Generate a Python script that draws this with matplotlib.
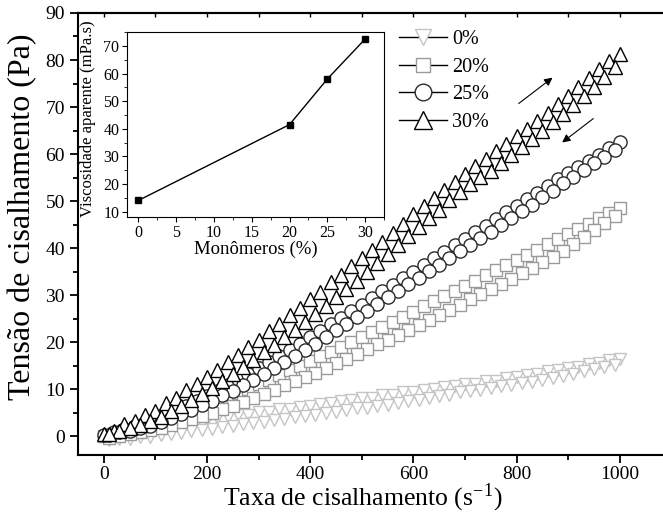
import matplotlib
matplotlib.use("Agg")
import matplotlib.pyplot as plt
import matplotlib.ticker as tckr
from matplotlib.lines import Line2D

plt.rcParams['font.family'] = ['Liberation Serif', 'DejaVu Serif']
plt.rcParams['mathtext.fontset'] = 'stix'

# shear rate points (s^-1): up sweep and down sweep
rate_up = [0, 20, 40, 60, 80, 100, 120, 140, 160, 180, 200, 220, 240, 260, 280,
           300, 320, 340, 360, 380, 400, 420, 440, 460, 480, 500, 520, 540, 560,
           580, 600, 620, 640, 660, 680, 700, 720, 740, 760, 780, 800, 820, 840,
           860, 880, 900, 920, 940, 960, 980, 1000]
rate_dn = [990, 970, 950, 930, 910, 890, 870, 850, 830, 810, 790, 770, 750, 730,
           710, 690, 670, 650, 630, 610, 590, 570, 550, 530, 510, 490, 470, 450,
           430, 410, 390, 370, 350, 330, 310, 290, 270, 250, 230, 210, 190, 170,
           150, 130, 110, 90, 70, 50, 30, 10]

# shear stress (Pa); up lists follow rate_up, down lists go 10 -> 990
s0_up = [0.0, 0.5, 0.7, 1.3, 1.5, 2.1, 2.2, 2.7, 2.8, 3.3, 3.4, 3.9, 4.0, 4.5, 4.6,
         5.1, 5.2, 5.7, 5.8, 6.3, 6.4, 6.9, 7.0, 7.5, 7.6, 8.1, 8.2, 8.7, 8.8, 9.3,
         9.4, 9.9, 10.0, 10.5, 10.6, 11.1, 11.2, 11.7, 11.8, 12.3, 12.5, 13.0, 13.2,
         13.8, 14.0, 14.6, 14.8, 15.4, 15.6, 16.2, 16.5]
s0_dn = [-0.9, -0.6, -0.5, -0.2, -0.1, 0.2, 0.5, 0.7, 1.0, 1.3, 1.6, 1.9, 2.2, 2.6,
         2.9, 3.1, 3.5, 3.7, 4.1, 4.4, 4.6, 5.0, 5.2, 5.6, 5.9, 6.1, 6.5, 6.7, 7.1,
         7.4, 7.8, 8.1, 8.5, 8.8, 9.3, 9.6, 9.9, 10.2, 10.6, 10.9, 11.3, 11.6, 12.0,
         12.4, 12.8, 13.3, 13.8, 14.2, 14.8, 15.2]
s20_up = [0.0, 0.5, 1.0, 1.5, 2.0, 2.5, 3.3, 4.1, 4.9, 5.7, 6.5, 7.4, 8.3, 9.2,
          10.1, 11.0, 12.0, 13.0, 14.0, 15.0, 16.0, 17.0, 18.0, 19.0, 20.0, 21.0,
          22.1, 23.2, 24.3, 25.4, 26.5, 27.6, 28.7, 29.8, 30.9, 32.0, 33.1, 34.2,
          35.3, 36.4, 37.5, 38.6, 39.7, 40.8, 41.9, 43.0, 44.1, 45.2, 46.3, 47.4, 48.5]
s20_dn = [-0.3, 0.1, 0.5, 0.9, 1.3, 1.8, 2.4, 3.0, 3.6, 4.2, 4.9, 5.7, 6.5, 7.3,
          8.1, 9.0, 9.9, 10.8, 11.7, 12.6, 13.5, 14.5, 15.5, 16.5, 17.5, 18.5, 19.5,
          20.5, 21.5, 22.5, 23.6, 24.7, 25.8, 26.9, 28.0, 29.1, 30.2, 31.3, 32.4,
          33.5, 34.6, 35.8, 37.0, 38.2, 39.4, 40.8, 42.3, 43.8, 45.3, 46.8]
s25_up = [0.3, 0.9, 1.6, 2.2, 2.9, 3.5, 4.5, 5.5, 6.5, 7.5, 8.5, 9.7, 10.9, 12.1,
          13.3, 14.5, 15.8, 17.1, 18.4, 19.7, 21.0, 22.4, 23.8, 25.2, 26.6, 28.0,
          29.4, 30.8, 32.2, 33.6, 35.0, 36.4, 37.8, 39.2, 40.6, 42.0, 43.4, 44.8,
          46.2, 47.6, 49.0, 50.4, 51.8, 53.2, 54.6, 56.0, 57.3, 58.6, 59.9, 61.2, 62.5]
s25_dn = [0.3, 0.8, 1.2, 1.8, 2.2, 3.0, 3.8, 4.8, 5.6, 6.6, 7.5, 8.7, 9.7, 10.9,
          11.9, 13.2, 14.4, 15.8, 17.0, 18.4, 19.7, 21.1, 22.5, 23.9, 25.3, 26.7,
          28.1, 29.5, 30.9, 32.3, 33.7, 35.1, 36.5, 37.9, 39.3, 40.7, 42.1, 43.5,
          44.9, 46.3, 47.8, 49.2, 50.8, 52.2, 53.8, 55.2, 56.6, 58.0, 59.4, 60.8]
s30_up = [0.5, 1.2, 2.5, 3.3, 4.6, 5.4, 7.0, 8.2, 9.8, 11.0, 12.6, 14.0, 15.8,
          17.2, 19.0, 20.4, 22.3, 23.8, 25.7, 27.2, 29.1, 30.7, 32.7, 34.3, 36.2,
          37.8, 39.6, 41.4, 43.3, 45.2, 47.2, 48.9, 50.6, 52.4, 54.1, 55.8, 57.4,
          59.0, 60.6, 62.2, 63.8, 65.4, 67.1, 68.8, 70.6, 72.4, 74.3, 76.2, 78.0,
          79.7, 81.2]
s30_dn = [0.4, 1.0, 1.8, 2.4, 3.2, 4.1, 5.3, 6.5, 7.7, 8.9, 10.2, 11.8, 13.2, 14.8,
          16.2, 17.8, 19.4, 21.0, 22.6, 24.2, 25.9, 27.7, 29.5, 31.3, 33.1, 35.0,
          36.8, 38.8, 40.6, 42.6, 44.4, 46.4, 48.2, 50.2, 52.0, 53.6, 55.2, 56.5,
          58.2, 59.9, 61.6, 63.3, 65.0, 66.8, 68.6, 70.4, 72.3, 74.3, 76.4, 78.6]

labels = ['0%', '20%', '25%', '30%']
markers = ['v', 's', 'o', '^']
colors = ['#c4c4c4', '#9a9a9a', '#2a2a2a', '#000000']
msizes = [9, 8, 9.5, 10.5]
ups = [s0_up, s20_up, s25_up, s30_up]
downs = [s0_dn, s20_dn, s25_dn, s30_dn]

# inset: apparent viscosity
monomer = [0, 20, 25, 30]
viscosity = [14, 41.5, 58, 72.5]

fig = plt.figure(figsize=(6.63, 5.15), dpi=100)
ax = fig.add_axes([0.1176, 0.1165, 0.895, 0.8583])

for up, dn, m, c, ms in zip(ups, downs, markers, colors, msizes):
    ax.plot(rate_up, up, linestyle='none', marker=m, ms=ms, mfc='white', mec=c, mew=1.0)
    ax.plot(rate_dn, dn[::-1], linestyle='none', marker=m, ms=ms, mfc='white', mec=c, mew=1.0)

ax.set_xlim(-50, 1100)
ax.set_ylim(-4, 90)
ax.xaxis.set_major_locator(tckr.MultipleLocator(200))
ax.xaxis.set_minor_locator(tckr.MultipleLocator(100))
ax.yaxis.set_major_locator(tckr.MultipleLocator(10))
ax.yaxis.set_minor_locator(tckr.MultipleLocator(5))
ax.tick_params(which='both', direction='out', labelsize=14, width=1.3)
ax.tick_params(which='major', length=6)
ax.tick_params(which='minor', length=3.5)
ax.tick_params(axis='x', pad=2)
for sp in ax.spines.values():
    sp.set_linewidth(1.5)
ax.spines['right'].set_visible(False)

# small inward ticks along the top
top = ax.secondary_xaxis('top')
top.xaxis.set_major_locator(tckr.MultipleLocator(100))
top.tick_params(direction='in', length=3, width=1, labeltop=False)
top.spines['top'].set_linewidth(1.5)

ax.set_xlabel('Taxa de cisalhamento (s$^{\\mathregular{-1}}$)', fontsize=18.5)
ax.set_ylabel('Tensão de cisalhamento (Pa)', fontsize=23)
ax.xaxis.label.set_va('center')
ax.yaxis.label.set_va('center')
ax.xaxis.set_label_coords(0.48, -0.097)
ax.yaxis.set_label_coords(-0.094, 0.54)

# legend
handles = [Line2D([], [], color='black', lw=1, marker=m, ms=ms + 2.5, mfc='white', mec=c)
           for m, c, ms in zip(markers, colors, msizes)]
ax.legend(handles, labels, loc='upper left', bbox_to_anchor=(0.541, 0.962), frameon=False,
          fontsize=14.5, handlelength=2.4, handletextpad=0.25, labelspacing=0.43,
          borderpad=0, borderaxespad=0)

# sweep direction arrows
ax.annotate('', xy=(874, 76.6), xytext=(800, 70.4),
            arrowprops=dict(arrowstyle='-|>', color='black', lw=0.8, mutation_scale=12))
ax.annotate('', xy=(884, 62.1), xytext=(953, 67.9),
            arrowprops=dict(arrowstyle='-|>', color='black', lw=0.8, mutation_scale=12))

# inset
ins = fig.add_axes([0.1916, 0.5786, 0.3876, 0.359])
ins.plot(monomer, viscosity, color='black', lw=1, marker='s', ms=5)
ins.set_xlim(-1.5, 32.5)
ins.set_ylim(8, 75)
ins.xaxis.set_major_locator(tckr.MultipleLocator(5))
ins.xaxis.set_minor_locator(tckr.MultipleLocator(2.5))
ins.yaxis.set_major_locator(tckr.MultipleLocator(10))
ins.yaxis.set_minor_locator(tckr.MultipleLocator(5))
ins.tick_params(which='both', direction='out', labelsize=11.5, pad=2)
ins.tick_params(which='major', length=3.5)
ins.tick_params(which='minor', length=2)
ins.set_xlabel('Monômeros (%)', fontsize=13.5, labelpad=0)
ins.set_ylabel('Viscosidade aparente (mPa.s)', fontsize=12)
ins.yaxis.label.set_va('center')
ins.yaxis.set_label_coords(-0.152, 0.53)

fig.savefig('out.png', dpi=100)
